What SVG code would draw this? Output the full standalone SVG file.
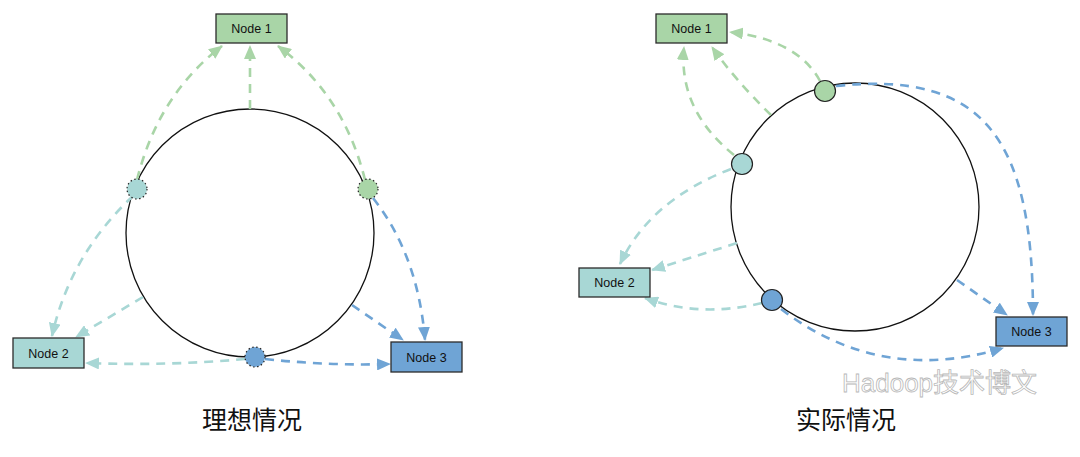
<svg xmlns="http://www.w3.org/2000/svg" width="1080" height="457" viewBox="0 0 1080 457">
<style>
.node rect{stroke:#2b2b2b;stroke-width:1.3}
.node text{font-family:"Liberation Sans",Arial,sans-serif;font-size:12.5px;fill:#111;text-anchor:middle}
.ring{fill:none;stroke:#111;stroke-width:1.3}
.c{fill:none;stroke-width:2.6;stroke-dasharray:9 7}
.g{stroke:#a9d5a7}
.t{stroke:#a8d7d5}
.b{stroke:#6fa4d5}
.title{font-family:"Noto Sans CJK SC","Noto Sans CJK JP",sans-serif;font-size:25px;fill:#111;text-anchor:middle}
.pt{stroke:#222;stroke-width:1.2}
.dot{stroke-dasharray:1.5 2.5}
</style>
<defs>
<marker id="ag" viewBox="0 0 14 12" refX="13" refY="6" markerWidth="14" markerHeight="12" markerUnits="userSpaceOnUse" orient="auto"><path d="M0,0 L14,6 L0,12 z" fill="#a9d5a7"/></marker>
<marker id="at" viewBox="0 0 14 12" refX="13" refY="6" markerWidth="14" markerHeight="12" markerUnits="userSpaceOnUse" orient="auto"><path d="M0,0 L14,6 L0,12 z" fill="#a8d7d5"/></marker>
<marker id="ab" viewBox="0 0 14 12" refX="13" refY="6" markerWidth="14" markerHeight="12" markerUnits="userSpaceOnUse" orient="auto"><path d="M0,0 L14,6 L0,12 z" fill="#6fa4d5"/></marker>
</defs>
<rect width="1080" height="457" fill="#fff"/>

<g id="ring-left"><circle class="ring" cx="250" cy="233" r="124"/></g>
<g id="ring-right"><circle class="ring" cx="855" cy="207" r="124"/></g>

<g id="connectors">
<path class="c g" d="M137,180 Q158,95 222,46" marker-end="url(#ag)"/>
<path class="c g" d="M250,109 L250,46" marker-end="url(#ag)"/>
<path class="c g" d="M365,180 Q344,95 278,46" marker-end="url(#ag)"/>
<path class="c t" d="M133,196 Q70,255 52,336" marker-end="url(#at)"/>
<path class="c t" d="M143,297 L76,337" marker-end="url(#at)"/>
<path class="c t" d="M245,359 Q170,366 86,363" marker-end="url(#at)"/>
<path class="c b" d="M373,198 Q418,255 425,340" marker-end="url(#ab)"/>
<path class="c b" d="M352,305 L403,340" marker-end="url(#ab)"/>
<path class="c b" d="M265,359 Q330,366 390,364" marker-end="url(#ab)"/>

<path class="c g" d="M820,81 Q798,40 730,32" marker-end="url(#ag)"/>
<path class="c g" d="M771,115 Q735,80 712,47" marker-end="url(#ag)"/>
<path class="c g" d="M734,155 Q678,110 684,47" marker-end="url(#ag)"/>
<path class="c t" d="M731,169 Q650,200 620,264" marker-end="url(#at)"/>
<path class="c t" d="M737,243 Q690,258 652,270" marker-end="url(#at)"/>
<path class="c t" d="M762,303 Q700,318 645,298" marker-end="url(#at)"/>
<path class="c b" d="M836,86 C985,70 1033,140 1033,315" marker-end="url(#ab)"/>
<path class="c b" d="M957,280 L1007,315" marker-end="url(#ab)"/>
<path class="c b" d="M781,309 Q880,385 1003,348" marker-end="url(#ab)"/>
</g>

<g id="points-left">
<circle class="pt dot" cx="137" cy="189" r="10" fill="#a8d7d5"/>
<circle class="pt dot" cx="368" cy="189" r="10" fill="#a9d5a7"/>
<circle class="pt dot" cx="255" cy="357" r="10" fill="#6fa4d5"/>
</g>
<g id="points-right">
<circle class="pt" cx="825" cy="91" r="10.5" fill="#a9d5a7"/>
<circle class="pt" cx="742" cy="164" r="10.5" fill="#a8d7d5"/>
<circle class="pt" cx="772" cy="300" r="10.5" fill="#6fa4d5"/>
</g>

<g id="left-node1" class="node"><rect x="216" y="14" width="71" height="29" fill="#a9d5a7"/><text x="251.5" y="33">Node 1</text></g>
<g id="left-node2" class="node"><rect x="13" y="338" width="71" height="30" fill="#a8d7d5"/><text x="48.5" y="357.5">Node 2</text></g>
<g id="left-node3" class="node"><rect x="391" y="342" width="71" height="30" fill="#6fa4d5"/><text x="426.5" y="361.5">Node 3</text></g>

<g id="right-node1" class="node"><rect x="656" y="14" width="71" height="29" fill="#a9d5a7"/><text x="691.5" y="33">Node 1</text></g>
<g id="right-node2" class="node"><rect x="579" y="268" width="71" height="29" fill="#a8d7d5"/><text x="614.5" y="287">Node 2</text></g>
<g id="right-node3" class="node"><rect x="996" y="317" width="71" height="29" fill="#6fa4d5"/><text x="1031.5" y="336">Node 3</text></g>

<text class="title" x="252" y="429">理想情况</text>
<text class="title" x="846" y="429">实际情况</text>
<text x="842" y="392" font-family="'Liberation Sans','Noto Sans CJK SC',sans-serif" font-size="26" fill="#fff" fill-opacity="0.6" stroke="#b8b8b8" stroke-width="0.8">Hadoop技术博文</text>
</svg>
